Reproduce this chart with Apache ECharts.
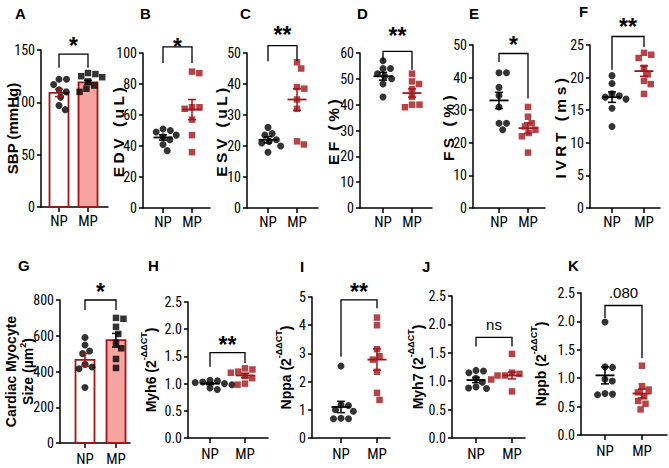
<!DOCTYPE html>
<html><head><meta charset="utf-8">
<script src="https://cdn.jsdelivr.net/npm/echarts@6/dist/echarts.min.js"></script>
<style>
html,body{margin:0;padding:0;background:#fff;}
#c{width:669px;height:468px;}
#c svg text[style*="15.5px"]{letter-spacing:3.5px;}
</style></head><body><div id="c"></div>
<script>
// ---------- data ----------
const panels = ['A','B','C','D','E','F','G','H','I','J','K'];
const categories = ['NP','MP'];
const yNames = [
  'SBP (mmHg)','EDV (uL)','ESV (uL)','EF (%)','FS (%)','IVRT (ms)',
  '{b|Cardiac Myocyte}\n{b|Size (µm}{s|2}{b|)}',
  '{b|Myh6 (2}{s|-ΔΔCT}{b|)}','{b|Nppa (2}{s|-ΔΔCT}{b|)}',
  '{b|Myh7 (2}{s|-ΔΔCT}{b|)}','{b|Nppb (2}{s|-ΔΔCT}{b|)}'
];
const yMax      = [150, 100, 50, 60, 50, 25, 800, 2.5, 5, 2.5, 2.5];
const yInterval = [50, 20, 10, 10, 10, 5, 200, 0.5, 1, 0.5, 0.5];
const isBarPanel = [true,false,false,false,false,false,true,false,false,false,false];

const sbpNP  = [122,122,117,112,110,105,97,93];
const sbpMP  = [128,127,125,124,120,116,113,110];
const edvNP  = [51,50,49,47,46,44,41,37];
const edvMP  = [88,87,65,65,64,57,47,36];
const esvNP  = [26,24,23.5,22,21.5,21,20,18];
const esvMP  = [47,45,39,38.5,35,32,21.5,20.5];
const efNP   = [57,54,54,52,51,50,48,43];
const efMP   = [52,49,48,46,43,40,40,39];
const fsNP   = [41.5,41.5,37,34.5,31,26,26,24];
const fsMP   = [31,28,26,25,24,23,22,17];
const ivrtNP = [20.3,19.1,17.5,17.2,17,16.7,15.3,12.5];
const ivrtMP = [23.8,23.5,23,21.5,20.5,19.5,19,17.5];
const sizeNP = [590,548,515,500,440,425,415,310];
const sizeMP = [700,695,650,610,560,530,470,420];
const myh6NP = [1.06,1.05,1.03,1.02,1.0,0.98,0.92,0.89];
const myh6MP = [1.28,1.26,1.22,1.2,1.14,1.1,1.0,0.98];
const nppaNP = [2.55,1.18,1.15,1.0,0.95,0.7,0.68,0.68];
const nppaMP = [4.27,4.0,3.15,2.9,2.78,2.35,1.6,1.35];
const myh7NP = [1.19,1.18,1.15,1.05,0.98,0.9,0.88,0.87];
const myh7MP = [1.48,1.15,1.13,1.1,1.1,1.07,1.03,0.82];
const nppbNP = [1.99,1.2,1.19,0.98,0.95,0.73,0.72,0.71];
const nppbMP = [1.22,0.86,0.8,0.75,0.68,0.6,0.55,0.45];

const meanNP = [109, 45.5, 22, 51, 33, 17, 465, 1.0, 1.1, 1.02, 1.05];
const semNP  = [3.5, 1.7, 1.0, 1.5, 2.5, 0.8, 35, 0.02, 0.2, 0.045, 0.15];
const meanMP = [119, 63.5, 35, 44.5, 24.5, 21, 575, 1.15, 2.78, 1.1, 0.73];
const semMP  = [2, 6.5, 3.5, 1.6, 1.6, 0.8, 38, 0.04, 0.38, 0.06, 0.08];

const sigLabels  = ['*','*','**','**','*','**','*','**','**','ns','.080'];
const bracketTop = [146, 104, 52.4, 60.6, 47.4, 26.3, 800, 1.57, 4.9, 1.77, 2.28];
const legNP      = [133, 93.5, 47.3, 56.8, 44.8, 21.2, 744, 1.31, 2.88, 1.61, 2.06];
const legMP      = [133, 93.5, 47.3, 53.5, 33.6, 24.7, 744, 1.38, 4.6, 1.61, 1.35];
const sigY       = [159, 107.3, 57.5, 68.4, 51.5, 28.6, 875, 1.8, 5.35, 1.99, 2.51];

const npSets = [sbpNP, edvNP, esvNP, efNP, fsNP, ivrtNP, sizeNP, myh6NP, nppaNP, myh7NP, nppbNP];
const mpSets = [sbpMP, edvMP, esvMP, efMP, fsMP, ivrtMP, sizeMP, myh6MP, nppaMP, myh7MP, nppbMP];

// ---------- layout (pixels) ----------
const layout = [
  {l:41,  r:108, t:50,  b:207, np:59,  mp:88,  gap:21, lx:15,  ly:6},
  {l:143, r:210, t:53,  b:208, np:163, mp:192, gap:17, lx:140, ly:6},
  {l:247, r:318, t:53,  b:208, np:268, mp:297, gap:18, lx:240, ly:6},
  {l:360, r:432, t:53,  b:208, np:383, mp:412, gap:19, lx:357, ly:6},
  {l:473, r:545, t:45,  b:208, np:499, mp:528, gap:17, lx:469, ly:6},
  {l:590, r:660, t:45,  b:208, np:612, mp:644, gap:22, lx:579, ly:4},
  {l:60,  r:130, t:300, b:443, np:85,  mp:116, gap:25, lx:18,  ly:258},
  {l:188, r:268, t:302, b:438, np:210, mp:245, gap:30, lx:148, ly:258},
  {l:312, r:390, t:297, b:438, np:341, mp:377, gap:19, lx:300, ly:259},
  {l:452, r:525, t:296, b:438, np:476, mp:512, gap:27, lx:422, ly:259},
  {l:581, r:667, t:293, b:435, np:605, mp:642, gap:33, lx:568, ly:258}
];

const SANS = "'Liberation Sans', Arial, Helvetica, sans-serif";
const NARROW = "'Liberation Sans Narrow', 'Arial Narrow', 'Roboto Condensed', 'Liberation Sans', sans-serif";
const RED = '#a3151b';
const BARRED = '#a3151b';
const PINK = '#f6a4a2';

function swarm(vals, ky, kx, d) {
  const order = vals.map((v, i) => i).sort((a, b) => vals[b] - vals[a]);
  const placed = [];
  const out = new Array(vals.length);
  order.forEach(i => {
    const y = vals[i] * ky;
    const cands = [0];
    placed.forEach(p => {
      const dy = Math.abs(p.y - y);
      if (dy < d) { const dx = Math.sqrt(d * d - dy * dy); cands.push(p.x + dx, p.x - dx); }
    });
    cands.sort((a, b) => Math.abs(a) - Math.abs(b));
    let x = 0;
    for (const c of cands) {
      if (placed.every(p => (p.x - c) * (p.x - c) + (p.y - y) * (p.y - y) >= d * d - 0.01)) { x = c; break; }
    }
    placed.push({x, y});
    out[i] = x / kx;
  });
  return out;
}

const grids = [], xAxes = [], yAxes = [], series = [], graphics = [];
panels.forEach((p, i) => {
  const L = layout[i];
  const unit = L.mp - L.np;
  const ky = (L.b - L.t) / yMax[i];
  grids.push({left: L.l, top: L.t, width: L.r - L.l, height: L.b - L.t, containLabel: false, outerBoundsMode: 'none'});
  xAxes.push({
    type: 'value', gridIndex: i,
    min: (L.l - L.np) / unit, max: 1 + (L.r - L.mp) / unit,
    axisLine: {show: true, onZero: false, lineStyle: {color: '#000', width: 1.5}},
    axisTick: {show: true, customValues: [0, 1], length: 5, lineStyle: {color: '#000', width: 1.5}},
    axisLabel: {show: true, customValues: [0, 1], formatter: v => categories[Math.round(v)],
      color: '#000', fontSize: 15, fontFamily: NARROW, margin: i < 6 ? 6 : 8},
    splitLine: {show: false}
  });
  const rich = {
    b: {fontSize: 14, fontWeight: 'bold', fontFamily: SANS, color: '#000', lineHeight: i === 6 ? 17 : 19, verticalAlign: 'bottom'},
    s: {fontSize: 9, fontWeight: 'bold', fontFamily: SANS, color: '#000', lineHeight: 10, verticalAlign: 'top'}
  };
  yAxes.push({
    type: 'value', gridIndex: i, min: 0, max: yMax[i], interval: yInterval[i],
    axisLine: {show: true, onZero: false, lineStyle: {color: '#000', width: 1.5}},
    axisTick: {show: true, length: 4, lineStyle: {color: '#000', width: 1.5}},
    axisLabel: {color: '#000', fontSize: 14, fontFamily: NARROW, margin: 6,
      formatter: yInterval[i] < 1 ? (v => v.toFixed(1)) : (v => String(v))},
    splitLine: {show: false},
    name: yNames[i], nameLocation: 'middle', nameGap: L.gap, nameRotate: 90, nameMoveOverlap: false,
    nameTextStyle: i === 0 ? {fontSize: 15, fontWeight: 'bold', fontFamily: SANS, color: '#000'}
      : (i < 6 ? {fontSize: 15.5, fontWeight: 'bold', fontFamily: SANS, color: '#000'}
      : {fontFamily: SANS, color: '#000', rich: rich})
  });

  const bar = isBarPanel[i];
  if (bar) {
    series.push({
      type: 'custom', xAxisIndex: i, yAxisIndex: i, z: 1,
      data: [[0, meanNP[i]], [1, meanMP[i]]],
      renderItem: (params, api) => {
        const g = api.value(0), m = api.value(1);
        const top = api.coord([g, m]), base = api.coord([g, 0]);
        return {type: 'rect', shape: {x: top[0] - 9.5, y: top[1], width: 19, height: base[1] - top[1]},
          style: {fill: g === 0 ? '#fff' : PINK, stroke: BARRED, lineWidth: 1.8}};
      }
    });
  }
  const offNP = swarm(npSets[i], ky, unit, 7.5);
  const offMP = swarm(mpSets[i], ky, unit, 7.5);
  series.push({
    type: 'scatter', xAxisIndex: i, yAxisIndex: i, z: 3, symbol: 'circle', symbolSize: 7,
    itemStyle: {color: '#000'},
    data: npSets[i].map((v, k) => [offNP[k], v])
  });
  series.push({
    type: 'scatter', xAxisIndex: i, yAxisIndex: i, z: 3, symbol: 'rect', symbolSize: 6.5,
    itemStyle: {color: bar ? '#000' : RED},
    data: mpSets[i].map((v, k) => [1 + offMP[k], v])
  });
  series.push({
    type: 'custom', xAxisIndex: i, yAxisIndex: i, z: 5,
    data: [[0, meanNP[i], semNP[i]], [1, meanMP[i], semMP[i]]],
    renderItem: (params, api) => {
      const g = api.value(0), m = api.value(1), s = api.value(2);
      const c = api.coord([g, m]), hi = api.coord([g, m + s]), lo = api.coord([g, m - s]);
      const col = bar ? (g === 0 ? BARRED : '#000') : (g === 0 ? '#000' : RED);
      const st = {stroke: col, lineWidth: 1.5};
      const ch = [
        {type: 'line', shape: {x1: c[0], y1: hi[1], x2: c[0], y2: lo[1]}, style: st},
        {type: 'line', shape: {x1: c[0] - 4, y1: hi[1], x2: c[0] + 4, y2: hi[1]}, style: st},
        {type: 'line', shape: {x1: c[0] - 4, y1: lo[1], x2: c[0] + 4, y2: lo[1]}, style: st}
      ];
      if (!bar) ch.push({type: 'line', shape: {x1: c[0] - 9.5, y1: c[1], x2: c[0] + 9.5, y2: c[1]}, style: {stroke: col, lineWidth: 1.8}});
      return {type: 'group', children: ch};
    }
  });
  const label = sigLabels[i];
  series.push({
    type: 'custom', xAxisIndex: i, yAxisIndex: i, z: 6, clip: false,
    data: [[legNP[i], bracketTop[i], legMP[i], sigY[i]]],
    renderItem: (params, api) => {
      const a = api.coord([0, api.value(0)]), b = api.coord([0, api.value(1)]);
      const c = api.coord([1, api.value(1)]), d = api.coord([1, api.value(2)]);
      const t = api.coord([0.5, api.value(3)]);
      const star = label.indexOf('*') >= 0;
      const fs = star ? 23 : 15;
      return {type: 'group', children: [
        {type: 'polyline', shape: {points: [a, b, c, d]}, style: {stroke: '#000', lineWidth: 1.3, fill: 'none'}},
        {type: 'text', x: t[0], y: t[1] + (star ? 0.22 * fs : 0),
          style: {text: label, fontSize: fs, fontWeight: star ? 'bold' : 'normal', fontFamily: SANS,
            fill: '#000', align: 'center', verticalAlign: 'middle'}}
      ]};
    }
  });
  graphics.push({type: 'text', left: L.lx, top: L.ly,
    style: {text: p, fontSize: 15, fontWeight: 'bold', fontFamily: SANS, fill: '#000'}});
});

const chart = echarts.init(document.getElementById('c'), null, {renderer: 'svg', width: 669, height: 468});
chart.setOption({
  animation: false,
  backgroundColor: '#fff',
  grid: grids, xAxis: xAxes, yAxis: yAxes, series: series, graphic: graphics
});
</script></body></html>
